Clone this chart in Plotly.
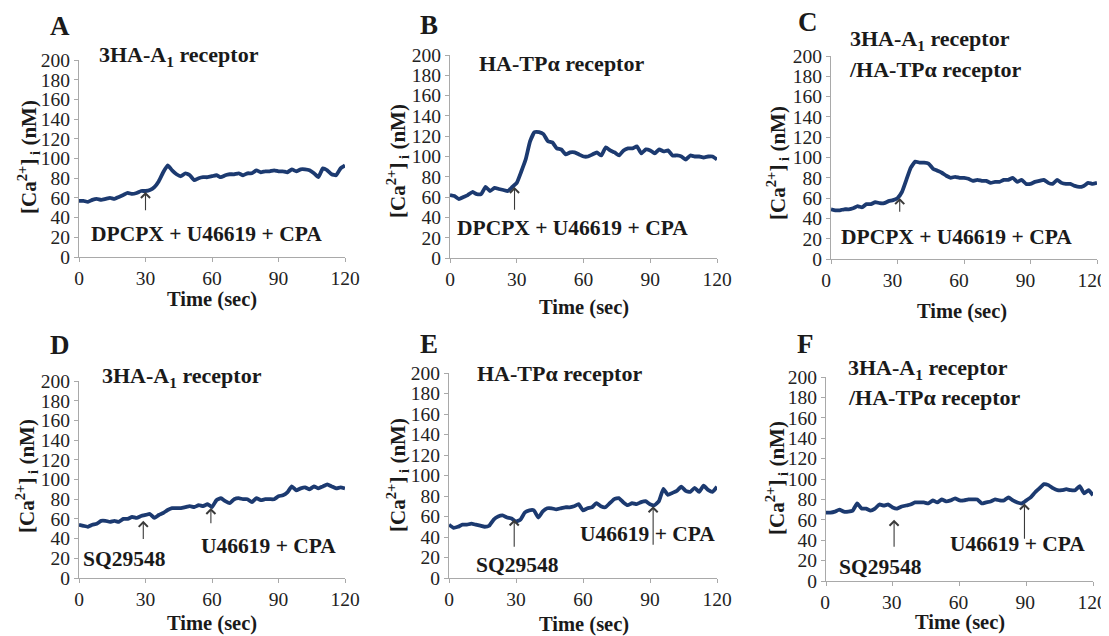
import plotly.graph_objects as go

# ---------------- data ----------------
time_s = list(range(0, 121, 2))

ca_A = [57, 57, 56, 58, 59, 58, 59, 60, 59, 61, 63, 65, 64, 65, 67, 67, 68, 71, 77, 86,
        93, 88, 84, 82, 85, 83, 78, 80, 81, 81, 82, 83, 81, 83, 84, 84, 85, 83, 85, 85,
        88, 86, 87, 87, 88, 87, 87, 86, 89, 87, 89, 89, 88, 85, 81, 90, 88, 84, 83, 90, 93]
ca_B = [62, 61, 58, 60, 62, 65, 63, 63, 70, 66, 69, 68, 67, 66, 70, 74, 85, 97, 115, 124,
        124, 122, 115, 114, 108, 107, 102, 104, 104, 102, 100, 100, 102, 104, 101, 109, 106, 104, 101, 106,
        108, 108, 110, 103, 107, 106, 103, 107, 105, 106, 101, 101, 100, 97, 101, 100, 100, 99, 100, 100, 97]
ca_C = [49, 48, 48, 49, 49, 50, 52, 51, 54, 54, 56, 55, 55, 57, 58, 60, 66, 78, 90, 96,
        95, 95, 94, 89, 87, 85, 82, 80, 81, 80, 80, 79, 77, 78, 77, 77, 75, 76, 76, 78,
        78, 80, 76, 78, 74, 74, 76, 77, 78, 75, 74, 78, 75, 74, 74, 72, 71, 72, 75, 74, 75]
ca_D = [54, 53, 52, 54, 55, 58, 58, 57, 58, 57, 60, 60, 62, 61, 63, 64, 65, 61, 64, 66,
        69, 71, 71, 71, 72, 73, 72, 74, 73, 75, 72, 79, 81, 78, 76, 80, 81, 80, 80, 77,
        81, 79, 80, 80, 80, 83, 84, 87, 93, 89, 91, 92, 90, 93, 91, 93, 95, 93, 91, 92, 91]
ca_E = [52, 49, 50, 52, 52, 53, 52, 51, 50, 51, 57, 60, 61, 59, 58, 55, 57, 64, 66, 66,
        59, 65, 68, 68, 67, 68, 69, 69, 70, 72, 66, 68, 69, 73, 70, 69, 73, 77, 78, 74,
        71, 73, 72, 74, 75, 72, 71, 75, 87, 81, 83, 85, 89, 85, 84, 88, 84, 90, 86, 84, 89]
ca_F = [67, 67, 68, 70, 68, 68, 69, 76, 71, 71, 69, 71, 75, 74, 75, 72, 71, 73, 74, 75,
        77, 77, 77, 76, 79, 77, 80, 78, 79, 81, 79, 79, 80, 80, 80, 76, 77, 78, 80, 79,
        79, 82, 79, 77, 76, 79, 82, 87, 91, 95, 94, 91, 89, 89, 90, 89, 89, 93, 86, 89, 84]

panel_letters = ["A", "B", "C", "D", "E", "F"]
receptor_a1 = "3HA-A<sub>1</sub> receptor"
receptor_tp = "HA-TPα receptor"
receptor_co2 = "/HA-TPα receptor"
series = [ca_A, ca_B, ca_C, ca_D, ca_E, ca_F]

y_ticks = list(range(0, 201, 20))
x_ticks = [0, 30, 60, 90, 120]

# arrow annotations: (time, head value, tail value)
arrows = {
    0: [(30, 66, 46)],
    1: [(29, 70, 46)],
    2: [(31, 60, 45)],
    3: [(29, 58, 38), (59.5, 71, 54)],
    4: [(29.2, 57, 29), (91.4, 70, 31)],
    5: [(30.6, 60, 32), (89.2, 76, 40)],
}
# agent labels: (text, time centre, value centre)
labels = {
    0: [("DPCPX + U46619 + CPA", 57.7, 23)],
    1: [("DPCPX + U46619 + CPA", 55, 29.5)],
    2: [("DPCPX + U46619 + CPA", 56.4, 22)],
    3: [("SQ29548", 20.5, 19), ("U46619 + CPA", 85.6, 33)],
    4: [("SQ29548", 30.6, 12.7), ("U46619 + CPA", 88.8, 43)],
    5: [("SQ29548", 24.5, 14), ("U46619 + CPA", 86.2, 36)],
}

# ---------------- layout geometry (screen pixels) ----------------
SCREEN_W, SCREEN_H = 1109, 636
OFF = 8                      # page body margin of the html page
W, H = SCREEN_W - OFF, SCREEN_H - OFF
# (x_left, x_right, y_bottom, y_top) in screen pixels
boxes = [
    (79, 345, 257, 60),
    (450, 717, 258, 55),
    (831, 1097, 259, 56),
    (79, 345, 578, 381),
    (449, 717, 578, 373),
    (826, 1093, 581, 377),
]
letter_pos = [(60, 26), (429, 25), (808, 22), (60, 345), (429, 344), (805, 344)]
subtitle_pos = [
    [(receptor_a1, 97, 56)],
    [(receptor_tp, 477, 63)],
    [(receptor_a1, 848, 40), (receptor_co2, 847, 70)],
    [(receptor_a1, 100, 377)],
    [(receptor_tp, 475, 373)],
    [(receptor_a1, 846, 369), (receptor_co2, 846, 397)],
]
ytitle_pos = [(28, 157), (397, 161), (777, 163), (27, 476), (397, 475), (777, 478)]
xtitle_pos = [(212, 299), (584, 307), (962, 311), (212, 623), (584, 624), (960, 622)]

FONT = "Liberation Serif"
LINE_COLOR = "#1c3a70"
AX_COLOR = "#a9a9a9"
TXT = "#1a1a1a"

def px(x):
    return (x - OFF) / W

def py(y):
    return 1 - (y - OFF) / H

fig = go.Figure()
layout = dict(
    template="none",
    width=W, height=H, margin=dict(l=0, r=0, t=0, b=0, autoexpand=False),
    paper_bgcolor="white", plot_bgcolor="white", showlegend=False,
    font=dict(family=FONT, color=TXT),
)
annotations = []

for i, vals in enumerate(series):
    n = "" if i == 0 else str(i + 1)
    fig.add_trace(go.Scatter(
        x=time_s, y=vals, mode="lines", xaxis="x" + n, yaxis="y" + n,
        line=dict(color=LINE_COLOR, width=3.8, shape="spline", smoothing=0.4),
        hoverinfo="skip", cliponaxis=False,
    ))
    xl, xr, yb, yt = boxes[i]
    # keep the last x label ("120") inside the page when the axis ends near the edge
    overflow = xr + 16 - (SCREEN_W - 1)
    shift = -overflow if overflow > 0 else 0
    layout["xaxis" + n] = dict(
        domain=[px(xl), px(xr)], range=[0, 120], anchor="y" + n, automargin=False,
        tickvals=x_ticks, ticks="outside", ticklen=4, tickcolor=AX_COLOR,
        showline=True, linecolor=AX_COLOR, linewidth=1, showgrid=False,
        zeroline=False, ticklabeloverflow="allow", ticklabelshift=shift,
        tickfont=dict(family=FONT, size=19.5, color="#222"),
    )
    layout["yaxis" + n] = dict(
        domain=[py(yb), py(yt)], range=[0, 200], anchor="x" + n, automargin=False,
        tickvals=y_ticks, ticks="outside", ticklen=4, tickcolor=AX_COLOR,
        showline=True, linecolor=AX_COLOR, linewidth=1, showgrid=False,
        zeroline=False, ticklabeloverflow="allow",
        tickfont=dict(family=FONT, size=19.5, color="#222"),
    )
    # panel letter
    lx, ly = letter_pos[i]
    annotations.append(dict(text="<b>%s</b>" % panel_letters[i], x=px(lx), y=py(ly),
                            xref="paper", yref="paper", showarrow=False,
                            xanchor="center", yanchor="middle",
                            font=dict(family=FONT, size=27, color=TXT)))
    # subtitle(s)
    for txt, sx, sy in subtitle_pos[i]:
        annotations.append(dict(text="<b>%s</b>" % txt, x=px(sx), y=py(sy),
                                xref="paper", yref="paper", showarrow=False,
                                xanchor="left", yanchor="middle",
                                font=dict(family=FONT, size=22, color=TXT)))
    # y title
    tx, ty = ytitle_pos[i]
    annotations.append(dict(text="<b>[Ca<sup>2+</sup>]<sub> i</sub> (nM)</b>", x=px(tx), y=py(ty),
                            xref="paper", yref="paper", showarrow=False, textangle=-90,
                            xanchor="center", yanchor="middle",
                            font=dict(family=FONT, size=21, color=TXT)))
    # x title
    tx, ty = xtitle_pos[i]
    annotations.append(dict(text="<b>Time (sec)</b>", x=px(tx), y=py(ty),
                            xref="paper", yref="paper", showarrow=False,
                            xanchor="center", yanchor="middle",
                            font=dict(family=FONT, size=20.5, color=TXT)))
    # arrows
    for t, head, tail in arrows[i]:
        annotations.append(dict(text="", x=t, y=head, ax=t, ay=tail,
                                xref="x" + n, yref="y" + n, axref="x" + n, ayref="y" + n,
                                showarrow=True, arrowhead=4, arrowsize=1.6, arrowwidth=1.1,
                                arrowcolor="#3a3a3a", standoff=0, startstandoff=0))
    # agent labels
    for txt, t, v in labels[i]:
        annotations.append(dict(text="<b>%s</b>" % txt, x=t, y=v,
                                xref="x" + n, yref="y" + n, showarrow=False,
                                xanchor="center", yanchor="middle",
                                font=dict(family=FONT, size=21.5, color=TXT)))

layout["annotations"] = annotations
fig.update_layout(**layout)
fig.write_html("out.html")
